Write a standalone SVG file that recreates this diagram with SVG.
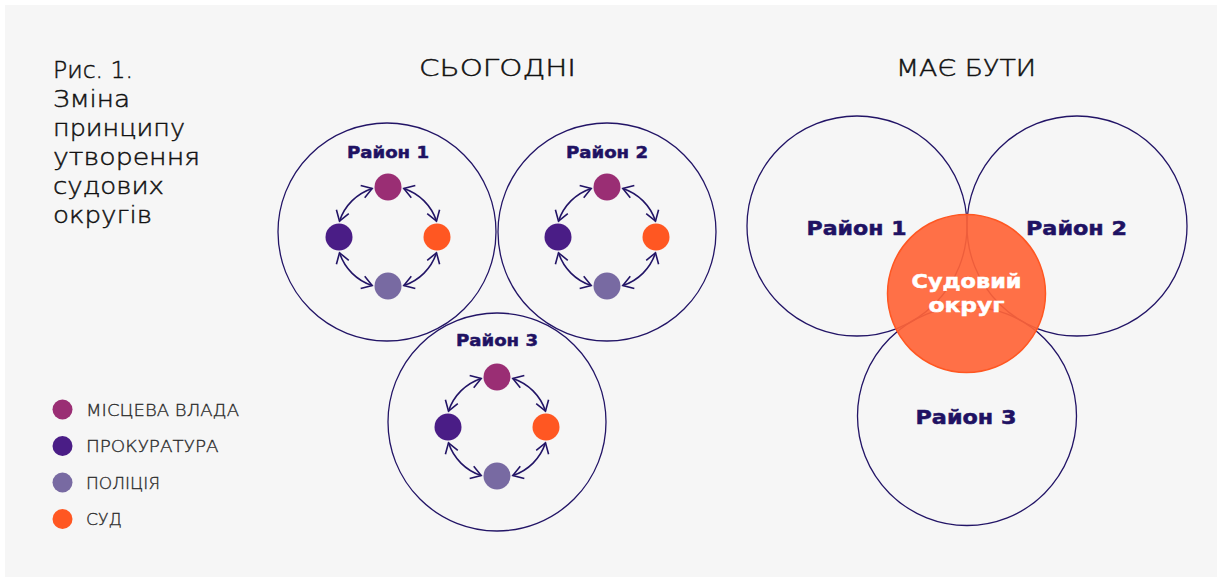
<svg xmlns="http://www.w3.org/2000/svg" width="1219" height="580" viewBox="0 0 1219 580">
  <defs>
    <style>
      .ring { fill: none; stroke: #221466; stroke-width: 1.3; }
      .link { fill: none; stroke: #221466; stroke-width: 1.6; marker-start: url(#chev); marker-end: url(#chev); }
      .head { font-family: "DejaVu Sans", "Liberation Sans", sans-serif; font-weight: 200; font-size: 22.5px; fill: #111111; stroke: #111111; stroke-width: 0.45; }
      .cap { font-family: "DejaVu Sans", "Liberation Sans", sans-serif; font-weight: 200; font-size: 22.5px; fill: #111111; stroke: #111111; stroke-width: 0.45; }
      .lbl { font-family: "DejaVu Sans", "Liberation Sans", sans-serif; font-weight: bold; fill: #1f1263; stroke: #1f1263; stroke-width: 0.5; text-anchor: middle; }
      .s { font-size: 16px; }
      .l { font-size: 19.5px; }
      .white { fill: #ffffff; stroke: #ffffff; }
      .legend { font-family: "DejaVu Sans", "Liberation Sans", sans-serif; font-weight: 200; font-size: 15px; fill: #2a2a2a; stroke: #2a2a2a; stroke-width: 0.3; }
      .c-local { fill: #9a2e74; }
      .c-pros { fill: #4a1d86; }
      .c-police { fill: #786aa2; }
      .c-court { fill: #ff5722; }
    </style>
    <marker id="chev" markerUnits="userSpaceOnUse" markerWidth="14" markerHeight="14" refX="0" refY="0" orient="auto-start-reverse" overflow="visible">
      <path d="M -10 -6.5 L 0 0 L -10 6.5" fill="none" stroke="#221466" stroke-width="1.6" stroke-linejoin="miter"/>
    </marker>
    <!-- four agencies arranged around a district centre -->
    <g id="agencies">
      <circle class="c-local" cx="0" cy="-50" r="13.5"/>
      <circle class="c-pros" cx="-49" cy="0" r="13.5"/>
      <circle class="c-court" cx="49" cy="0" r="13.5"/>
      <circle class="c-police" cx="0" cy="49" r="13.5"/>
    </g>
    <!-- two-way links between neighbouring agencies -->
    <g id="links">
      <path class="link" d="M -15.8 -48.5 A 51 51 0 0 0 -48.5 -15.8"/>
      <path class="link" d="M 15.8 -48.5 A 51 51 0 0 1 48.5 -15.8"/>
      <path class="link" d="M 48.5 15.8 A 51 51 0 0 1 15.8 48.5"/>
      <path class="link" d="M -15.8 48.5 A 51 51 0 0 1 -48.5 15.8"/>
    </g>
  </defs>

  <rect x="0" y="0" width="1219" height="580" fill="#ffffff"/>
  <rect x="5" y="5" width="1212" height="572" fill="#f6f6f6"/>

  <!-- caption -->
  <g id="caption">
    <text class="cap" x="53" y="78" textLength="80" lengthAdjust="spacingAndGlyphs">Рис. 1.</text>
    <text class="cap" x="53" y="107" textLength="77" lengthAdjust="spacingAndGlyphs">Зміна</text>
    <text class="cap" x="53" y="136" textLength="132" lengthAdjust="spacingAndGlyphs">принципу</text>
    <text class="cap" x="53" y="165" textLength="147" lengthAdjust="spacingAndGlyphs">утворення</text>
    <text class="cap" x="53" y="194" textLength="111" lengthAdjust="spacingAndGlyphs">судових</text>
    <text class="cap" x="53" y="223" textLength="99" lengthAdjust="spacingAndGlyphs">округів</text>
  </g>

  <!-- column headings -->
  <text class="head" x="419" y="76" textLength="157" lengthAdjust="spacingAndGlyphs">СЬОГОДНІ</text>
  <text class="head" x="896" y="76" textLength="140" lengthAdjust="spacingAndGlyphs">МАЄ БУТИ</text>

  <!-- legend -->
  <g id="legend">
    <circle class="c-local" cx="62.5" cy="409.5" r="10"/>
    <text class="legend" x="86" y="415.5" textLength="153" lengthAdjust="spacingAndGlyphs">МІСЦЕВА ВЛАДА</text>
    <circle class="c-pros" cx="62.5" cy="446" r="10"/>
    <text class="legend" x="86" y="452" textLength="132.5" lengthAdjust="spacingAndGlyphs">ПРОКУРАТУРА</text>
    <circle class="c-police" cx="62.5" cy="482.5" r="10"/>
    <text class="legend" x="86" y="488.5" textLength="74" lengthAdjust="spacingAndGlyphs">ПОЛІЦІЯ</text>
    <circle class="c-court" cx="62.5" cy="519" r="10"/>
    <text class="legend" x="86" y="525" textLength="36" lengthAdjust="spacingAndGlyphs">СУД</text>
  </g>

  <!-- current model: each district with its own set of agencies -->
  <g id="today-district-1">
    <circle class="ring" cx="387" cy="232" r="109"/>
    <text class="lbl s" x="388" y="158" textLength="82" lengthAdjust="spacingAndGlyphs">Район 1</text>
    <use href="#agencies" transform="translate(388,237)"/>
  </g>
  <g id="today-district-2">
    <circle class="ring" cx="607" cy="232" r="109"/>
    <text class="lbl s" x="607" y="158" textLength="82" lengthAdjust="spacingAndGlyphs">Район 2</text>
    <use href="#agencies" transform="translate(607,237)"/>
  </g>
  <g id="today-district-3">
    <circle class="ring" cx="497" cy="422" r="109"/>
    <text class="lbl s" x="497" y="346" textLength="82" lengthAdjust="spacingAndGlyphs">Район 3</text>
    <use href="#agencies" transform="translate(497,427)"/>
  </g>

  <g id="connectors">
    <use href="#links" transform="translate(388,237)"/>
    <use href="#links" transform="translate(607,237)"/>
    <use href="#links" transform="translate(497,427)"/>
  </g>

  <!-- target model: three districts sharing one court district -->
  <g id="future-district-1">
    <circle class="ring" cx="857" cy="226" r="110"/>
    <text class="lbl l" x="856.5" y="235" textLength="100" lengthAdjust="spacingAndGlyphs">Район 1</text>
  </g>
  <g id="future-district-2">
    <circle class="ring" cx="1077" cy="226" r="110"/>
    <text class="lbl l" x="1076.5" y="235" textLength="101" lengthAdjust="spacingAndGlyphs">Район 2</text>
  </g>
  <g id="future-district-3">
    <circle class="ring" cx="967" cy="416" r="109.5"/>
    <text class="lbl l" x="966" y="424" textLength="101" lengthAdjust="spacingAndGlyphs">Район 3</text>
  </g>
  <g id="court-district">
    <circle cx="966.5" cy="293.5" r="79" fill="#ff6437" fill-opacity="0.92" stroke="#ff5722" stroke-width="1.5"/>
    <text class="lbl l white" x="966.5" y="288" textLength="110" lengthAdjust="spacingAndGlyphs">Судовий</text>
    <text class="lbl l white" x="966.5" y="312" textLength="76" lengthAdjust="spacingAndGlyphs">округ</text>
  </g>
</svg>
